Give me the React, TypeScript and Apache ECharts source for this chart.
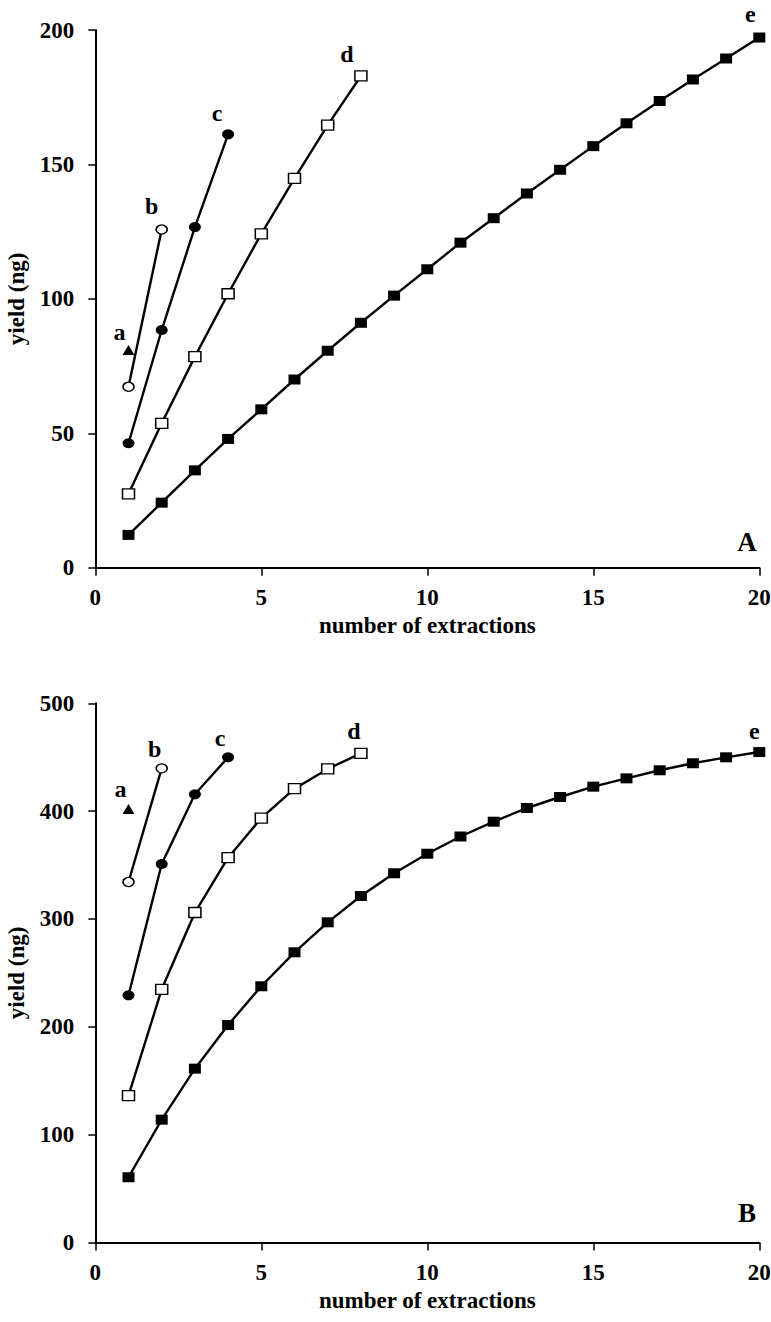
import React, { useEffect, useRef } from "react";
import * as echarts from "echarts";

// x values: number of extractions
const extractions = [1, 2, 3, 4, 5, 6, 7, 8, 9, 10, 11, 12, 13, 14, 15, 16, 17, 18, 19, 20];

// Panel A (yield, ng)
const topA = [81];
const topB = [67.3, 125.8];
const topC = [46.3, 88.4, 126.7, 161.2];
const topD = [27.5, 53.7, 78.5, 101.9, 124.2, 144.8, 164.6, 182.9];
const topE = [12.2, 24.2, 36.2, 47.9, 58.9, 70.0, 80.7, 91.1, 101.2, 111.0, 120.9, 130.0, 139.2, 148.0, 156.8, 165.3, 173.6, 181.6, 189.4, 197.2];

// Panel B (yield, ng)
const botA = [402];
const botB = [334.3, 439.7];
const botC = [229.2, 351, 415.6, 449.9];
const botD = [136.1, 234.8, 306, 356.8, 393.6, 420.8, 439.1, 453.6];
const botE = [60.5, 113.9, 161.2, 201.7, 237.6, 269.1, 296.9, 321.3, 342.4, 360.5, 376.5, 390.2, 402.9, 413.1, 422.7, 430.4, 437.9, 444.4, 449.9, 454.8];

const seriesNames = ["a", "b", "c", "d", "e"];
const xTicks = [0, 5, 10, 15, 20];
const panelLetters = ["A", "B"];

const FONT = "Liberation Serif, Times New Roman, serif";

type Sty = { symbol: string; size: number[]; fill: string };
const styles: Sty[] = [
  { symbol: "triangle", size: [12, 10], fill: "#000" },
  { symbol: "circle", size: [11, 9], fill: "#fff" },
  { symbol: "circle", size: [12, 10], fill: "#000" },
  { symbol: "rect", size: [12, 10], fill: "#fff" },
  { symbol: "rect", size: [12, 10], fill: "#000" },
];

const topOffsets = [[-9, -18], [-10, -23], [-11, -21], [-14, -22], [-9, -24]];
const botOffsets = [[-8, -20], [-7, -19], [-8, -19], [-7, -22], [-5, -21]];

function mkSeries(vals: number[][], offsets: number[][], axisIdx: number) {
  return vals.map((arr, i) => {
    const st = styles[i];
    const data: any[] = arr.map((v, j) => [extractions[j], v]);
    const last = data.length - 1;
    data[last] = {
      value: data[last],
      label: {
        show: true,
        formatter: seriesNames[i],
        position: "inside",
        offset: offsets[i],
        fontFamily: FONT,
        fontWeight: "bold",
        fontSize: 24,
        color: "#000",
      },
    };
    return {
      type: "line",
      name: seriesNames[i],
      xAxisIndex: axisIdx,
      yAxisIndex: axisIdx,
      data,
      symbol: st.symbol,
      symbolSize: st.size,
      showSymbol: true,
      showAllSymbol: true,
      z: 3,
      lineStyle: { color: "#000", width: 2.4 },
      itemStyle: { color: st.fill, borderColor: "#000", borderWidth: st.fill === "#fff" ? 1.4 : 0 },
      emphasis: { disabled: true },
      label: { show: false },
    };
  });
}

const axisLabelStyle = {
  fontFamily: FONT,
  fontWeight: "bold" as const,
  fontSize: 23,
  color: "#000",
};

function xAxis(gridIndex: number) {
  return {
    type: "value",
    gridIndex,
    min: xTicks[0],
    max: xTicks[xTicks.length - 1],
    interval: 5,
    name: "number of extractions",
    nameLocation: "middle",
    nameGap: 46,
    nameTextStyle: { ...axisLabelStyle, fontSize: 23 },
    axisLine: { show: true, onZero: false, lineStyle: { color: "#000", width: 2 } },
    axisTick: { show: true, length: 8, lineStyle: { color: "#000", width: 1.5 } },
    axisLabel: { ...axisLabelStyle, margin: 18 },
    splitLine: { show: false },
  };
}

function yAxis(gridIndex: number, max: number, interval: number) {
  return {
    type: "value",
    gridIndex,
    min: 0,
    max,
    interval,
    name: "yield (ng)",
    nameLocation: "middle",
    nameGap: 67,
    nameTextStyle: { ...axisLabelStyle, fontSize: 23 },
    axisLine: { show: true, lineStyle: { color: "#000", width: 2 } },
    axisTick: { show: true, length: 7, lineStyle: { color: "#000", width: 1.5 } },
    axisLabel: { ...axisLabelStyle, margin: 21 },
    splitLine: { show: false },
  };
}

export default function App() {
  const ref = useRef<HTMLDivElement>(null);
  useEffect(() => {
    if (!ref.current) return;
    const chart = echarts.init(ref.current, undefined, { renderer: "svg" });
    chart.setOption({
      animation: false,
      backgroundColor: "#fff",
      grid: [
        { left: 95.3, right: 11.7, top: 30, height: 537.7, outerBoundsMode: "none", containLabel: false },
        { left: 95.3, right: 11.7, top: 703.3, height: 539.2, outerBoundsMode: "none", containLabel: false },
      ],
      xAxis: [xAxis(0), xAxis(1)],
      yAxis: [yAxis(0, 200, 50), yAxis(1, 500, 100)],
      series: [
        ...mkSeries([topA, topB, topC, topD, topE], topOffsets, 0),
        ...mkSeries([botA, botB, botC, botD, botE], botOffsets, 1),
      ],
      graphic: [
        {
          type: "text",
          x: 747,
          y: 542,
          style: {
            text: panelLetters[0],
            font: `bold 27px ${FONT}`,
            fill: "#000",
            textAlign: "center",
            textVerticalAlign: "middle",
          },
        },
        {
          type: "text",
          x: 747,
          y: 1213,
          style: {
            text: panelLetters[1],
            font: `bold 27px ${FONT}`,
            fill: "#000",
            textAlign: "center",
            textVerticalAlign: "middle",
          },
        },
      ],
    });
    return () => chart.dispose();
  }, []);
  return (
    <div
      ref={ref}
      style={{ position: "fixed", left: 0, top: 0, width: 771, height: 1322, background: "#fff" }}
    />
  );
}
